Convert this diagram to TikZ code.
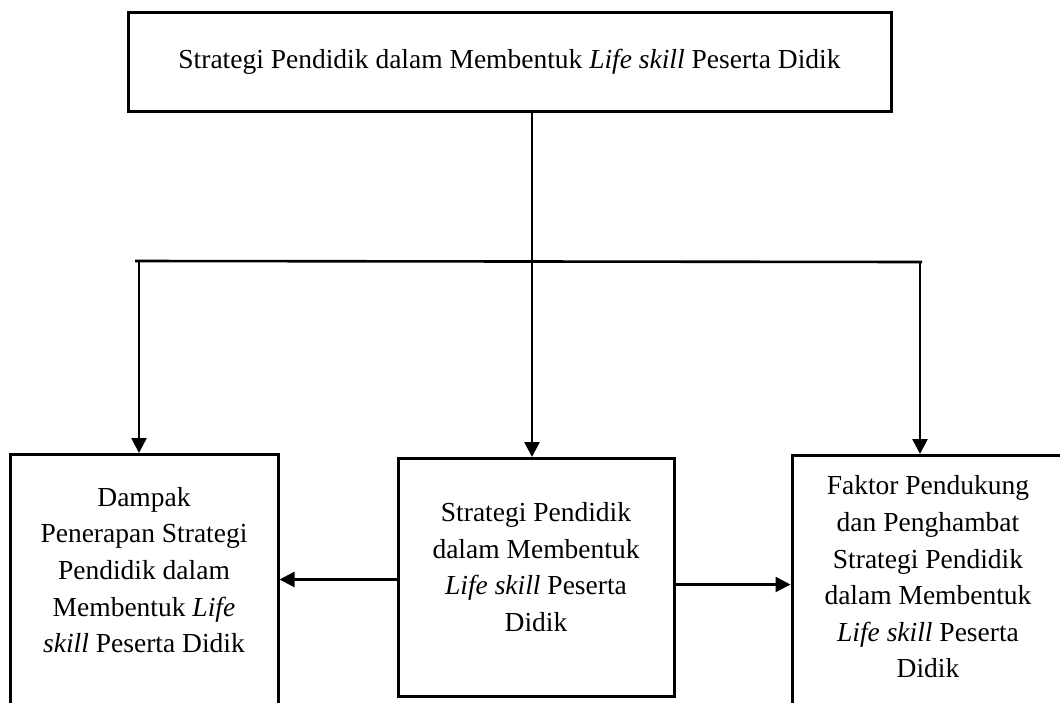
\documentclass[tikz,border=0pt]{standalone}
\usepackage{fontspec}
\setmainfont{Liberation Serif}
\usetikzlibrary{arrows.meta}
\begin{document}
\begin{tikzpicture}[x=1pt,y=-1pt,
  boxline/.style={draw=black,line width=3pt,inner sep=0pt},
  txt/.style={align=center,font=\fontsize{27.5}{36.6}\selectfont,inner sep=0pt},
  conn/.style={line width=2.6pt},
  arr/.style={conn,-{Triangle[length=15pt,width=15pt]}}]
\useasboundingbox (0,0) rectangle (1060,702);
\clip (0,0) rectangle (1060,702);
% boxes
\node[boxline,minimum width=763,minimum height=99] (T) at (509.5,61.5) {};
\node[txt] (Tt) at (509.5,62) {Strategi Pendidik dalam Membentuk \textit{Life skill} Peserta Didik};
\node[boxline,minimum width=268,minimum height=300,anchor=north] (L) at (144,453) {};
\node[txt] (Lt) at (144,570) {Dampak\\Penerapan Strategi\\Pendidik dalam\\Membentuk \textit{Life}\\\textit{skill} Peserta Didik};
\node[boxline,minimum width=276,minimum height=238,anchor=north] (C) at (536,457) {};
\node[txt] (Ct) at (536,567) {Strategi Pendidik\\dalam Membentuk\\\textit{Life skill} Peserta\\Didik};
\node[boxline,minimum width=274,minimum height=300,anchor=north] (R) at (929,454) {};
\node[txt] (Rt) at (928,577) {Faktor Pendukung\\dan Penghambat\\Strategi Pendidik\\dalam Membentuk\\\textit{Life skill} Peserta\\Didik};
% connectors
\coordinate (hl) at (135,261);
\coordinate (hr) at (922,262);
\coordinate (dl) at (139,261);
\coordinate (dr) at (920,262);
\draw[conn] (hl) -- (hr);
\draw[arr] (T.south -| 532,0) -- (C.north -| 532,0);
\draw[arr] (dl) -- (dl |- L.north);
\draw[arr] (dr) -- (dr |- R.north);
\draw[arr] ([yshift=-2]C.west) -- ([yshift=-2]C.west -| L.east);
\draw[arr] ([yshift=-7]C.east) -- ([yshift=-7]C.east -| R.west);
\end{tikzpicture}
\end{document}
